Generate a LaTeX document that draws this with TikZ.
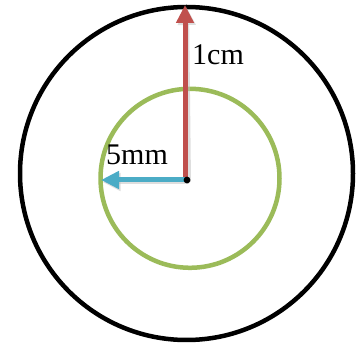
\documentclass[tikz,border=0pt]{standalone}
\usepackage{fontspec}
\setmainfont{Liberation Serif}
\usetikzlibrary{arrows.meta}
\definecolor{cred}{HTML}{C0504D}
\definecolor{cblue}{HTML}{4BACC6}
\definecolor{cgreen}{HTML}{9BBB59}
\begin{document}
\begin{tikzpicture}[x=1pt,y=-1pt,
  radarrow/.style={line width=5pt,-{Triangle[length=18pt,width=17pt]}},
  lbl/.style={font=\fontsize{30}{32}\selectfont,inner sep=0pt,anchor=base west}]
\useasboundingbox (0,0) rectangle (356,344);
\fill[white] (0,0) rectangle (356,344);
\coordinate (O) at (187,180);
\coordinate (top) at (185,5);
\coordinate (left) at (101,180);
\draw[line width=4.5pt] (186.5,173.5) circle[radius=166.5];
\draw[cgreen,line width=4.5pt] (190,178.3) circle[radius=89.5];
% shadows
\draw[radarrow,black!25,opacity=0.5] ([shift={(1.5,2)}]O) -- ([shift={(1.5,2)}]top);
\draw[radarrow,black!25,opacity=0.5] ([shift={(1.5,2)}]O) -- ([shift={(1.5,2)}]left);
\draw[radarrow,cred] (185,180) -- (top);
\draw[radarrow,cblue] (O) -- (left);
\fill (O) circle[radius=3.4];
\node[lbl] (cm) at (192,65) {1cm};
\node[lbl] (mm) at (106,165) {5mm};
\end{tikzpicture}
\end{document}
